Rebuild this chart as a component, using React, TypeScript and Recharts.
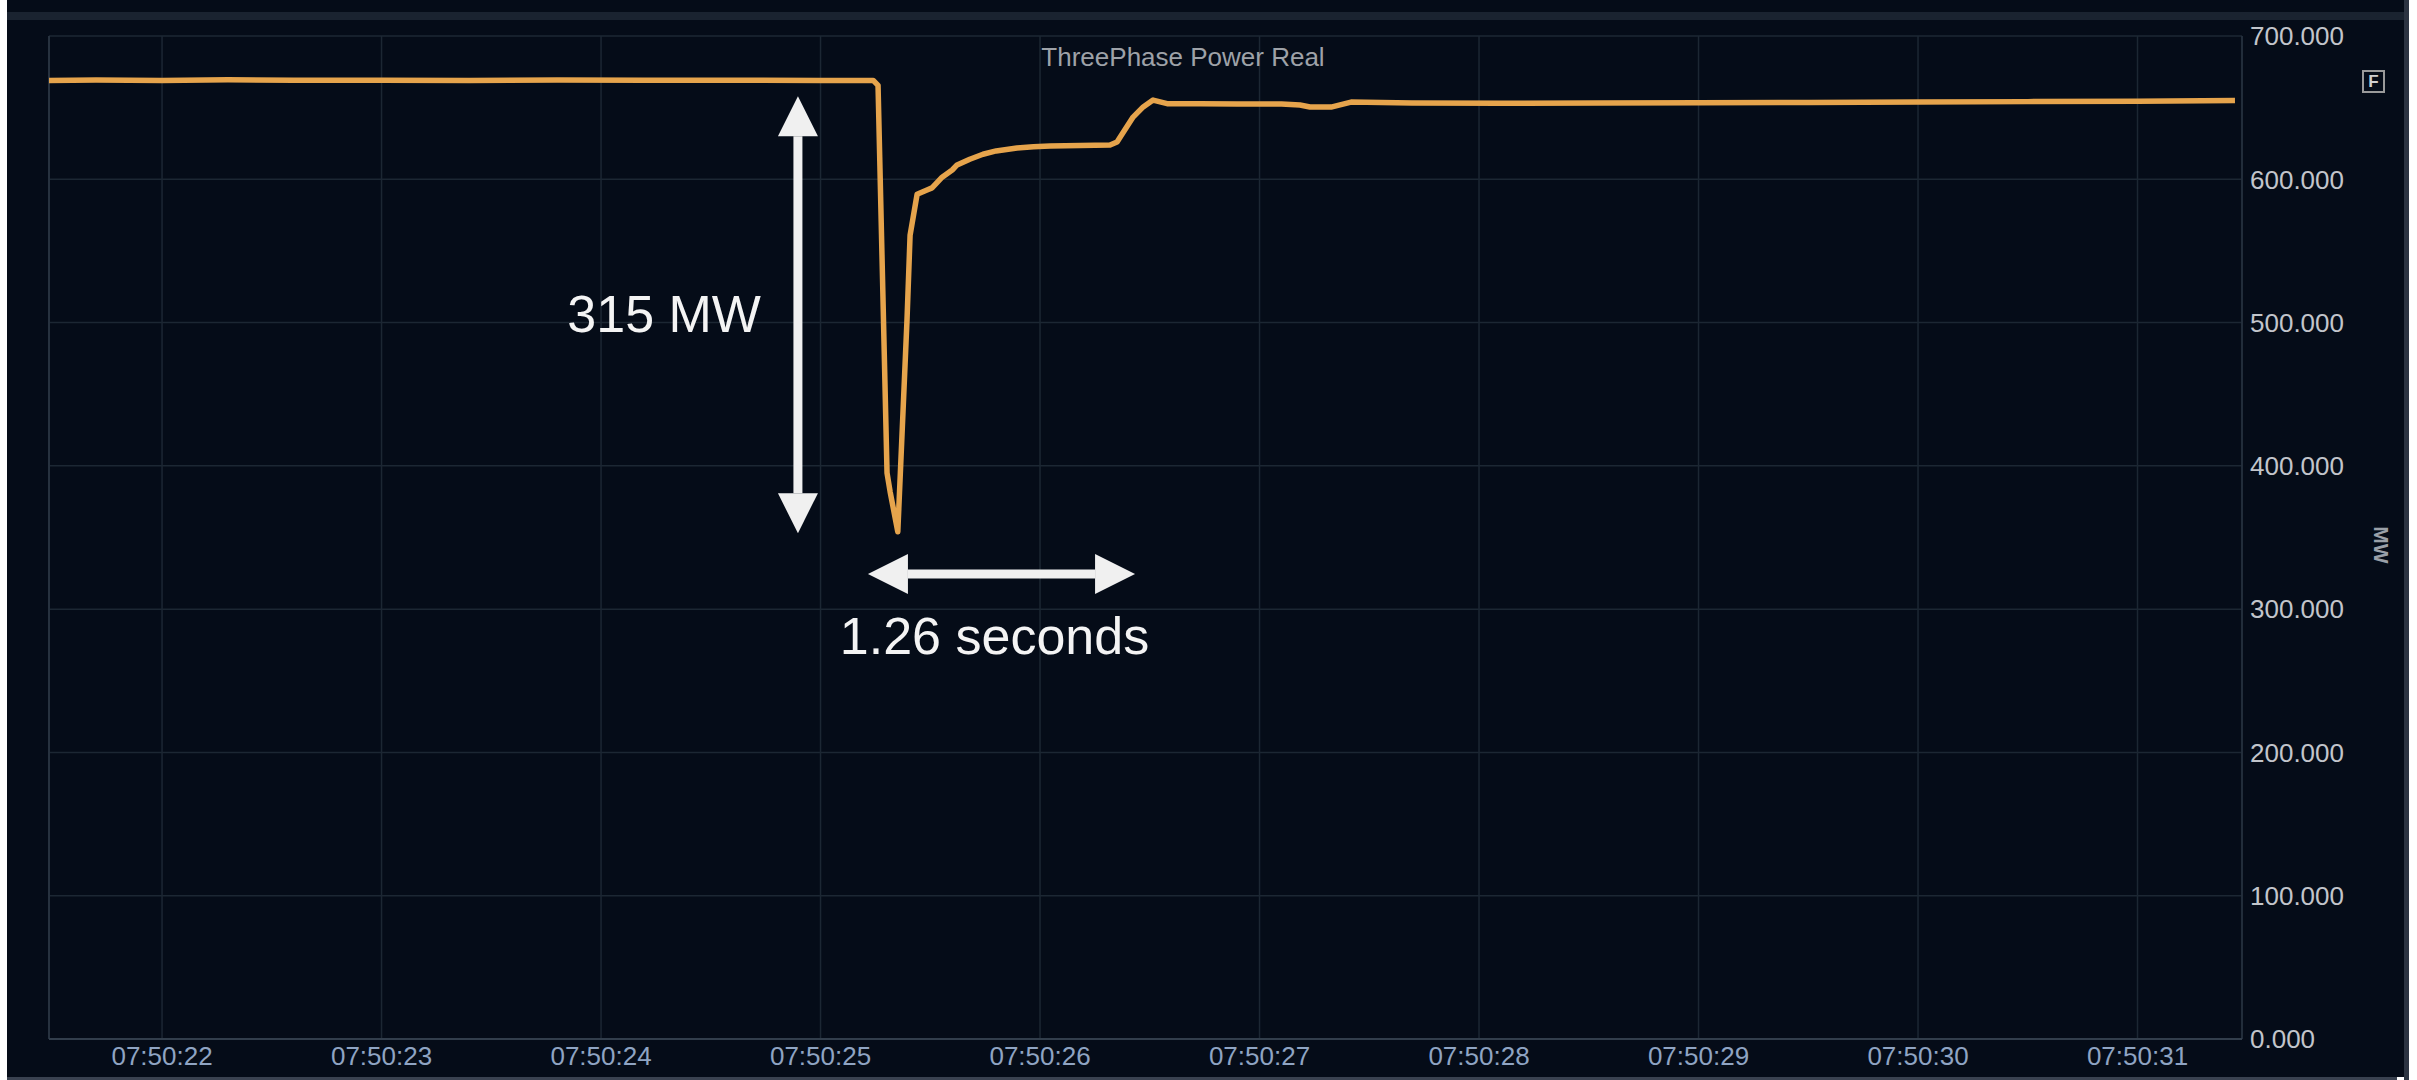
import React from 'react';
import { LineChart, Line, XAxis, YAxis, CartesianGrid, ReferenceLine } from 'recharts';

const FONT = '"Liberation Sans", Arial, sans-serif';

// x axis: seconds after 07:50:00
const tickSeconds = [22, 23, 24, 25, 26, 27, 28, 29, 30, 31];
const tickLabels = ['07:50:22', '07:50:23', '07:50:24', '07:50:25', '07:50:26', '07:50:27', '07:50:28', '07:50:29', '07:50:30', '07:50:31'];
const xDomain = [21.485, 31.476];

const yTicks = [0, 100, 200, 300, 400, 500, 600, 700];

// ThreePhase Power Real (MW)
const times = [
  21.485, 21.7, 22.0, 22.3, 22.6, 23.0, 23.4, 23.8, 24.2, 24.6, 25.0, 25.24,
  25.262, 25.303, 25.317, 25.352, 25.394, 25.408, 25.44, 25.485, 25.508, 25.554,
  25.6, 25.622, 25.68, 25.74, 25.8, 25.895, 25.97, 26.046, 26.319, 26.351, 26.38, 26.424,
  26.47, 26.515, 26.579, 26.729,
  26.9, 27.1, 27.184, 27.23, 27.326, 27.417, 27.695, 28.1, 28.551, 29.0, 29.5,
  30.0, 30.5, 31.0, 31.444,
];
const power = [
  669.0, 669.3, 669.0, 669.4, 669.1, 669.2, 669.0, 669.3, 669.1, 669.2, 669.0, 669.0,
  665.5, 395.0, 382.0, 354.0, 502.0, 561.0, 589.5, 592.5, 594.0, 601.5,
  606.5, 610.0, 614.0, 617.5, 619.8, 621.8, 622.7, 623.2, 623.9, 626.0, 633.0, 643.4,
  650.5, 655.3, 652.8, 652.8,
  652.5, 652.6, 651.8, 650.4, 650.4, 653.9, 653.2, 653.0, 653.2, 653.5, 653.6,
  654.0, 654.2, 654.5, 655.0,
];

// annotations
const dropArrow = { t: 24.897, top: 658, bottom: 353, label: '315 MW' };
const durationArrow = { v: 324.5, start: 25.216, end: 26.433, label: '1.26 seconds' };

const data = times.map((t, i) => ({ t, p: power[i] }));

const ARROW = '#f0f0f0';

function DoubleArrow(props: any) {
  const { x1, y1, x2, y2, label, kind } = props;
  if (x1 == null || y1 == null) return null;
  const dx = x2 - x1;
  const dy = y2 - y1;
  const len = Math.sqrt(dx * dx + dy * dy);
  const ux = dx / len;
  const uy = dy / len;
  const px = -uy;
  const py = ux;
  const headLen = 40;
  const headHalf = 20;
  const shaftHalf = 4.5;
  const b1x = x1 + ux * headLen;
  const b1y = y1 + uy * headLen;
  const b2x = x2 - ux * headLen;
  const b2y = y2 - uy * headLen;
  const shaft = [
    [b1x + px * shaftHalf, b1y + py * shaftHalf],
    [b2x + px * shaftHalf, b2y + py * shaftHalf],
    [b2x - px * shaftHalf, b2y - py * shaftHalf],
    [b1x - px * shaftHalf, b1y - py * shaftHalf],
  ];
  const head1 = [
    [x1, y1],
    [b1x + px * headHalf, b1y + py * headHalf],
    [b1x - px * headHalf, b1y - py * headHalf],
  ];
  const head2 = [
    [x2, y2],
    [b2x + px * headHalf, b2y + py * headHalf],
    [b2x - px * headHalf, b2y - py * headHalf],
  ];
  const pts = (a: number[][]) => a.map((p) => p.join(',')).join(' ');
  const mx = (x1 + x2) / 2;
  const my = (y1 + y2) / 2;
  return (
    <g>
      <polygon points={pts(shaft)} fill={ARROW} />
      <polygon points={pts(head1)} fill={ARROW} />
      <polygon points={pts(head2)} fill={ARROW} />
      {kind === 'v' ? (
        <text x={mx - 37} y={my - 1} dy="0.36em" textAnchor="end" fill="#f4f4f4" fontSize={52} fontFamily={FONT}>
          {label}
        </text>
      ) : (
        <text x={mx - 7} y={my + 61} dy="0.36em" textAnchor="middle" fill="#f4f4f4" fontSize={52} fontFamily={FONT}>
          {label}
        </text>
      )}
    </g>
  );
}

export default function App() {
  return (
    <div style={{ position: 'absolute', left: 0, top: 0, width: 2417, height: 1080, background: '#ffffff', overflow: 'hidden', fontFamily: FONT }}>
      <div style={{ position: 'absolute', left: 7, top: 0, width: 2397, height: 1077, background: '#050c18' }} />
      <div style={{ position: 'absolute', left: 7, top: 12, width: 2397, height: 8, background: '#1a2330' }} />
      <div style={{ position: 'absolute', left: 7, top: 1077, width: 2390, height: 3, background: '#3a4250' }} />
      <div style={{ position: 'absolute', left: 2404, top: 0, width: 5, height: 1080, background: '#2c3442' }} />
      <div style={{ position: 'absolute', left: 0, top: 0 }}>
        <LineChart width={2417} height={1080} data={data} margin={{ top: 36, right: 55, bottom: 11, left: 49 }}>
          <CartesianGrid stroke="#1c2733" strokeWidth={1.5} />
          <XAxis
            dataKey="t"
            type="number"
            domain={xDomain}
            allowDataOverflow
            ticks={tickSeconds}
            interval={0}
            tickFormatter={(v: number) => tickLabels[tickSeconds.indexOf(v)]}
            tick={{ fill: '#8fa4c3', fontSize: 26, fontFamily: FONT }}
            tickLine={false}
            axisLine={{ stroke: '#323e4c', strokeWidth: 2 }}
            height={30}
          />
          <YAxis
            orientation="right"
            domain={[0, 700]}
            ticks={yTicks}
            interval={0}
            tickFormatter={(v: number) => v.toFixed(3)}
            tick={{ fill: '#c2c5cb', fontSize: 26, fontFamily: FONT }}
            tickLine={false}
            axisLine={false}
            width={120}
          />
          <ReferenceLine x={xDomain[0]} stroke="#27323f" strokeWidth={2} />
          <ReferenceLine x={xDomain[1]} stroke="#27323f" strokeWidth={1.5} />
          <Line
            type="linear"
            dataKey="p"
            stroke="#e6a44c"
            strokeWidth={5.5}
            strokeLinejoin="round"
            dot={false}
            activeDot={false}
            isAnimationActive={false}
          />
          <ReferenceLine
            segment={[{ x: dropArrow.t, y: dropArrow.top }, { x: dropArrow.t, y: dropArrow.bottom }]}
            ifOverflow="visible"
            shape={(p: any) => <DoubleArrow {...p} label={dropArrow.label} kind="v" />}
          />
          <ReferenceLine
            segment={[{ x: durationArrow.start, y: durationArrow.v }, { x: durationArrow.end, y: durationArrow.v }]}
            ifOverflow="visible"
            shape={(p: any) => <DoubleArrow {...p} label={durationArrow.label} kind="h" />}
          />
        </LineChart>
      </div>
      <div style={{ position: 'absolute', left: 1183, top: 57, transform: 'translate(-50%, -50%)', fontSize: 26, lineHeight: '26px', color: '#9ea2a8', whiteSpace: 'nowrap' }}>
        ThreePhase Power Real
      </div>
      <div style={{ position: 'absolute', left: 2381, top: 545, transform: 'translate(-50%, -50%) rotate(90deg)', fontSize: 21, lineHeight: '21px', fontWeight: 'bold', color: '#9aa0a8', whiteSpace: 'nowrap' }}>
        MW
      </div>
      <div style={{ position: 'absolute', left: 2362, top: 70, width: 19, height: 19, border: '2px solid #9a9a9a', color: '#d0d0d0', fontSize: 17, lineHeight: '19px', textAlign: 'center', fontWeight: 'bold' }}>
        F
      </div>
    </div>
  );
}
